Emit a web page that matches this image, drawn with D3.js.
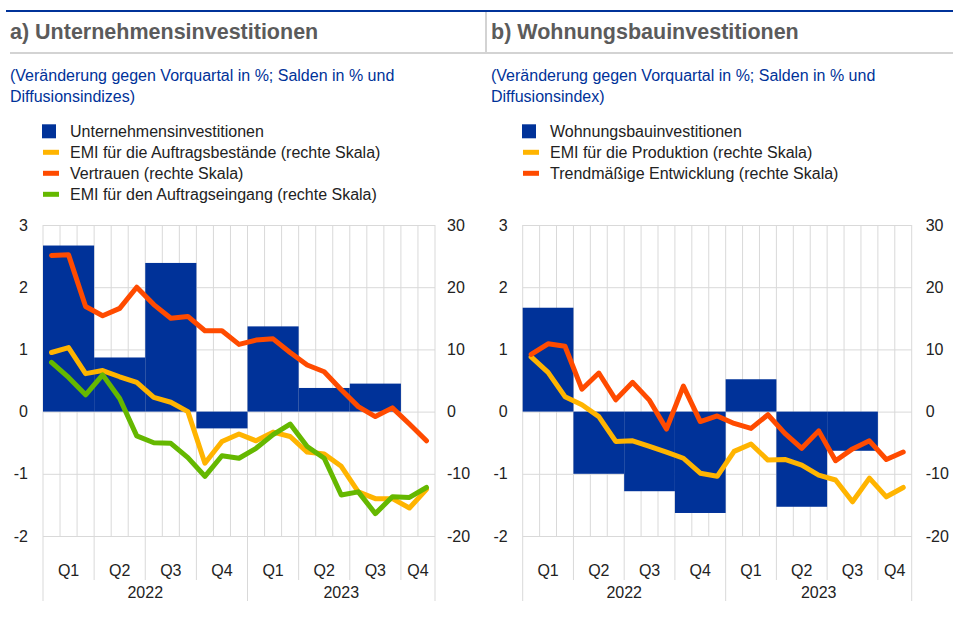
<!DOCTYPE html>
<html><head><meta charset="utf-8">
<script src="https://cdn.jsdelivr.net/npm/d3@7"></script>
<style>
body{margin:0;background:#fff}
svg text{font-family:"Liberation Sans",Arial,Helvetica,sans-serif}
</style>
</head><body>
<svg id="chart" width="953" height="618"></svg>
<script>
// ---------- data ----------
const months = ["2022-01","2022-02","2022-03","2022-04","2022-05","2022-06","2022-07","2022-08","2022-09","2022-10","2022-11","2022-12",
                "2023-01","2023-02","2023-03","2023-04","2023-05","2023-06","2023-07","2023-08","2023-09","2023-10","2023-11"];
const quarterLabels = ["Q1","Q2","Q3","Q4","Q1","Q2","Q3","Q4"];
const yearLabels = ["2022","2023"];
const leftTicks = [-2,-1,0,1,2,3];
const rightTicks = [-20,-10,0,10,20,30];

// panel a (left axis: bars, right axis: lines)
const businessInvestment = [2.67,0.87,2.39,-0.27,1.37,0.38,0.45,null];
const pmiBacklogs = [9.5,10.3,6.1,6.6,5.6,4.7,2.3,1.5,0.0,-8.3,-4.8,-3.6,-4.7,-3.3,-4.0,-6.5,-6.8,-8.8,-12.9,-14.0,-14.0,-15.5,-12.5];
const confidence = [25.1,25.2,16.9,15.4,16.6,20.0,17.2,15.0,15.3,13.0,13.0,10.8,11.5,11.7,9.5,7.5,6.4,3.5,0.8,-0.8,0.6,-2.0,-4.7];
const pmiNewOrders = [7.9,5.5,2.7,5.9,2.1,-3.9,-5.0,-5.1,-7.4,-10.4,-7.1,-7.5,-5.9,-3.7,-2.0,-5.6,-7.5,-13.4,-12.9,-16.4,-13.7,-13.8,-12.2];

// panel b
const housingInvestment = [1.67,-1.0,-1.28,-1.63,0.52,-1.53,-0.63,null];
const pmiOutput = [8.8,6.3,2.4,1.1,-0.8,-4.8,-4.7,-5.6,-6.5,-7.5,-9.9,-10.4,-6.4,-5.2,-7.8,-7.7,-8.6,-10.2,-11.0,-14.5,-10.7,-13.7,-12.2];
const trendDevelopment = [9.2,10.9,10.5,3.6,6.2,1.9,4.7,1.8,-2.8,4.1,-1.6,-0.7,-1.9,-2.7,-0.5,-3.5,-5.9,-3.1,-7.9,-6.0,-4.7,-7.7,-6.5];

const BLUE = "#003299", YELLOW = "#ffb400", RED = "#ff4b00", GREEN = "#65b800";

const svg = d3.select("#chart");

// header lines
svg.append("line").attr("x1",6).attr("x2",953).attr("y1",11).attr("y2",11).attr("stroke",BLUE).attr("stroke-width",2);
svg.append("line").attr("x1",10).attr("x2",953).attr("y1",53).attr("y2",53).attr("stroke","#d3d3d3").attr("stroke-width",2);
svg.append("line").attr("x1",486).attr("x2",486).attr("y1",12).attr("y2",53).attr("stroke","#d3d3d3").attr("stroke-width",2);

function panel(cfg){
  const g = svg.append("g");
  const top = 225, bottom = 536;
  const x = d3.scaleBand().domain(months).range([cfg.x0, cfg.x1]).padding(0);
  const bw = x.bandwidth();
  const yL = d3.scaleLinear().domain([-2,3]).range([bottom, top]);
  const yR = d3.scaleLinear().domain([-20,30]).range([bottom, top]);
  const fmt = d => String(d);

  // title & subtitle
  g.append("text").attr("x",cfg.tx).attr("y",38.5).attr("font-size",21.5).attr("font-weight","bold").attr("fill","#5b5b5b").text(cfg.title);
  cfg.subtitle.forEach((s,i)=>g.append("text").attr("x",cfg.tx).attr("y",81+i*21).attr("font-size",16).attr("fill",BLUE).text(s));

  // legend
  cfg.legend.forEach((it,i)=>{
    const cy = 131.3 + i*21;
    if(it.type==="bar"){
      g.append("rect").attr("x",cfg.lx).attr("y",cy-7).attr("width",14).attr("height",14).attr("fill",it.color);
    } else {
      g.append("rect").attr("x",cfg.lx+1).attr("y",cy-2.5).attr("width",16).attr("height",5).attr("fill",it.color);
    }
    g.append("text").attr("x",cfg.lx+28).attr("y",cy+5.5).attr("font-size",16).attr("fill","#222").text(it.label);
  });

  // horizontal grid
  const grid = g.append("g").attr("transform",`translate(${cfg.x0},0)`)
    .call(d3.axisLeft(yL).tickValues(leftTicks).tickSize(-(cfg.x1-cfg.x0)).tickFormat(""));
  grid.select(".domain").remove();
  grid.selectAll("line").attr("stroke","#d9d9d9").attr("stroke-width",1);

  // vertical month grid + category separators
  const bounds = d3.range(months.length+1);
  g.append("g").selectAll("line").data(bounds).join("line")
    .attr("x1",i=> i<months.length ? x(months[i]) : cfg.x1)
    .attr("x2",i=> i<months.length ? x(months[i]) : cfg.x1)
    .attr("y1",top)
    .attr("y2",i=> (i%12===0 || i===months.length) ? 601 : (i%3===0 ? 580 : bottom))
    .attr("stroke","#d9d9d9").attr("stroke-width",1);

  // bars per quarter
  const qData = cfg.bars.map((v,q)=>{
    const first = q*3, last = Math.min(q*3+2, months.length-1);
    return {v, first, last};
  }).filter(d=>d.v!==null);
  g.append("g").selectAll("rect").data(qData).join("rect")
    .attr("x",d=>x(months[d.first]))
    .attr("width",d=>x(months[d.last])+bw - x(months[d.first]))
    .attr("y",d=>yL(Math.max(0,d.v)))
    .attr("height",d=>Math.abs(yL(d.v)-yL(0)))
    .attr("fill",BLUE);

  // lines
  const line = d3.line().x((d,i)=>x(months[i])+bw/2).y(d=>yR(d));
  cfg.lines.forEach(l=>{
    g.append("path").datum(l.values).attr("d",line).attr("fill","none")
      .attr("stroke",l.color).attr("stroke-width",5).attr("stroke-linejoin","round").attr("stroke-linecap","round");
  });

  // axes labels
  const la = g.append("g").attr("transform",`translate(${cfg.x0},0)`)
    .call(d3.axisLeft(yL).tickValues(leftTicks).tickSize(0).tickPadding(cfg.lpad).tickFormat(fmt));
  la.select(".domain").remove();
  la.selectAll("text").attr("font-size",16).attr("fill","#222");
  const ra = g.append("g").attr("transform",`translate(${cfg.x1},0)`)
    .call(d3.axisRight(yR).tickValues(rightTicks).tickSize(0).tickPadding(cfg.rpad).tickFormat(fmt));
  ra.select(".domain").remove();
  ra.selectAll("text").attr("font-size",16).attr("fill","#222");

  // quarter & year labels
  quarterLabels.forEach((q,qi)=>{
    const first = qi*3, last = Math.min(qi*3+2, months.length-1);
    const cx = (x(months[first]) + x(months[last]) + bw)/2;
    g.append("text").attr("x",cx).attr("y",575.5).attr("text-anchor","middle").attr("font-size",16).attr("fill","#222").text(q);
  });
  yearLabels.forEach((yl,yi)=>{
    const first = yi*12, last = Math.min(yi*12+11, months.length-1);
    const cx = (x(months[first]) + x(months[last]) + bw)/2;
    g.append("text").attr("x",cx).attr("y",597.5).attr("text-anchor","middle").attr("font-size",16).attr("fill","#222").text(yl);
  });
}

panel({
  x0:43, x1:435, tx:10, lx:42, lpad:15, rpad:12,
  title:"a) Unternehmensinvestitionen",
  subtitle:["(Veränderung gegen Vorquartal in %; Salden in % und","Diffusionsindizes)"],
  legend:[
    {type:"bar",color:BLUE,label:"Unternehmensinvestitionen"},
    {type:"line",color:YELLOW,label:"EMI für die Auftragsbestände (rechte Skala)"},
    {type:"line",color:RED,label:"Vertrauen (rechte Skala)"},
    {type:"line",color:GREEN,label:"EMI für den Auftragseingang (rechte Skala)"}
  ],
  bars:businessInvestment,
  lines:[{values:pmiBacklogs,color:YELLOW},{values:confidence,color:RED},{values:pmiNewOrders,color:GREEN}]
});

panel({
  x0:522.7, x1:911.7, tx:491, lx:522, lpad:15, rpad:14,
  title:"b) Wohnungsbauinvestitionen",
  subtitle:["(Veränderung gegen Vorquartal in %; Salden in % und","Diffusionsindex)"],
  legend:[
    {type:"bar",color:BLUE,label:"Wohnungsbauinvestitionen"},
    {type:"line",color:YELLOW,label:"EMI für die Produktion (rechte Skala)"},
    {type:"line",color:RED,label:"Trendmäßige Entwicklung (rechte Skala)"}
  ],
  bars:housingInvestment,
  lines:[{values:pmiOutput,color:YELLOW},{values:trendDevelopment,color:RED}]
});
</script>
</body></html>
